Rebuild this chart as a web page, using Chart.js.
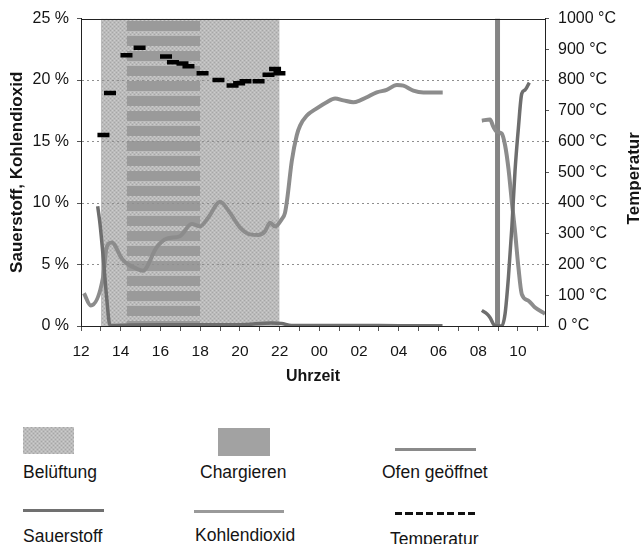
<!DOCTYPE html>
<html lang="de">
<head>
<meta charset="utf-8">
<title>Sauerstoff, Kohlendioxid und Temperatur</title>
<script src="https://cdn.jsdelivr.net/npm/chart.js@4.4.1/dist/chart.umd.min.js"></script>
<style>
  html, body { margin: 0; padding: 0; background: #fff; }
  #page { position: relative; width: 641px; height: 544px; overflow: hidden;
          font-family: "Liberation Sans", Arial, Helvetica, sans-serif; color: #141414; }
  #chartBox { position: absolute; left: 0; top: 0; width: 641px; height: 400px; }
  .swatch, .stroke, .label { position: absolute; }
  .label { font-size: 17.5px; line-height: 20px; white-space: nowrap; }
</style>
</head>
<body>
<div id="page">
  <div id="chartBox"><canvas id="mainChart"></canvas></div>

  <div class="swatch" id="swVent" style="left:23px;top:427px;width:51px;height:27px;background:#bcbcbc"></div>
  <div class="label" style="left:23px;top:462px">Belüftung</div>
  <div class="swatch" style="left:218px;top:428px;width:52px;height:28px;background:#a2a2a2"></div>
  <div class="label" style="left:200px;top:462px">Chargieren</div>
  <div class="stroke" style="left:395px;top:448px;width:81px;height:3px;background:#8a8a8a"></div>
  <div class="label" style="left:382px;top:462px">Ofen geöffnet</div>

  <div class="stroke" style="left:23px;top:509px;width:81px;height:3px;background:#707070"></div>
  <div class="label" style="left:23px;top:526px">Sauerstoff</div>
  <div class="stroke" style="left:194px;top:510px;width:90px;height:3px;background:#9a9a9a"></div>
  <div class="label" style="left:195px;top:525px">Kohlendioxid</div>
  <div class="stroke" style="left:395px;top:512px;width:81px;height:3px;background:repeating-linear-gradient(90deg,#111 0 7px,transparent 7px 10.5px)"></div>
  <div class="label" style="left:390px;top:529px">Temperatur</div>
</div>

<script>
// Werte; Zeit = Stunden ab Mitternacht des ersten Tages (24 = 00 Uhr)
const xTickHours = [12, 13, 14, 15, 16, 17, 18, 19, 20, 21, 22, 23, 24, 25, 26, 27, 28, 29, 30, 31, 32, 33, 34, 35];

const ventWindow = [13.0, 22.0];    // Belüftung
const chargeWindow = [14.3, 18.0];  // Chargieren
const ovenOpenHour = 32.97;         // Ofen geöffnet

// Kohlendioxid in %
const co2Hours = [12.15, 12.49, 13.11, 13.29, 13.55, 14.05, 14.30, 14.80, 15.12, 15.81,
  16.32, 16.98, 17.57, 17.99, 18.40, 19.00, 19.50, 20.01, 20.51, 20.91,
  21.26, 21.52, 21.77, 22.11, 22.27, 22.38, 22.61, 22.86, 23.03, 23.36,
  23.87, 24.37, 24.79, 25.21, 25.71, 26.05, 26.39, 26.89, 27.39, 27.90,
  28.23, 28.73, 29.24, 29.74, 30.21, 31.2,
  32.18, 32.59, 32.76, 32.93, 33.18, 33.35, 33.52, 33.69, 33.85, 34.02, 34.19, 34.52, 34.86, 35.36];
const co2Pct = [2.66, 1.67, 3.96, 6.4, 6.8, 5.5, 5.1, 4.66, 4.5, 6.4,
  7.1, 7.3, 8.3, 8.1, 8.8, 10.1, 9.2, 8.0, 7.45, 7.4,
  7.7, 8.4, 8.1, 8.7, 9.2, 10.3, 13.4, 15.5, 16.3, 17.1,
  17.7, 18.2, 18.5, 18.35, 18.2, 18.35, 18.6, 19.0, 19.2, 19.6,
  19.55, 19.15, 19.0, 19.0, 19.0, null,
  16.7, 16.8, 16.2, 15.8, 15.66, 14.7, 12.8, 10.1, 7.7, 4.8, 2.6, 2.07, 1.5, 1.0];

// Sauerstoff in %
const o2Hours = [12.84, 12.96, 13.12, 13.29, 13.46, 14.5, 16.0, 18.0, 20.0, 21.6,
  22.1, 22.6, 24.0, 26.0, 28.0, 30.2, 31.2,
  32.18, 32.43, 32.59, 32.85, 33.18, 33.35, 33.52, 33.69, 33.85, 34.02, 34.19, 34.36, 34.57];
const o2Pct = [9.74, 8.26, 5.57, 2.34, 0.05, 0.08, 0.1, 0.1, 0.1, 0.25,
  0.2, 0.05, 0.05, 0.05, 0.02, 0.02, null,
  1.27, 1.0, 0.7, 0, 0, 1.0, 4.0, 8.0, 12.6, 16.1, 18.9, 19.2, 19.8];

// Temperatur in °C
const tempHours = [13.13, 13.46, 14.29, 14.95, 16.28, 16.63, 17.11, 17.41, 18.12,
  18.92, 19.63, 19.96, 20.28, 20.94, 21.44, 21.77, 21.99];
const tempC = [621, 758, 881, 905, 877, 858, 854, 845, 822,
  800, 782, 790, 796, 796, 817, 836, 822];

const PCT_MAX = 25;
const FONT = '"Liberation Sans", Arial, Helvetica, sans-serif';
const INK = '#141414';

function toPoints(xs, ys) {
  return xs.map((x, i) => ({ x: x, y: ys[i] }));
}

// Raster für die Belüftungsfläche
function stipplePattern() {
  const c = document.createElement('canvas');
  c.width = 4; c.height = 4;
  const g = c.getContext('2d');
  g.fillStyle = '#bbbbbb'; g.fillRect(0, 0, 4, 4);
  g.fillStyle = '#a6a6a6'; g.fillRect(0, 0, 1, 1); g.fillRect(2, 2, 1, 1);
  g.fillStyle = '#cccccc'; g.fillRect(2, 0, 1, 1); g.fillRect(0, 2, 1, 1);
  return c;
}

// Streifen für die Chargierfläche
function stripePattern(ctx) {
  const c = document.createElement('canvas');
  c.width = 4; c.height = 15;
  const g = c.getContext('2d');
  g.fillStyle = '#9a9a9a'; g.fillRect(0, 0, 4, 10);
  const p = ctx.createPattern(c, 'repeat');
  p.setTransform(new DOMMatrix().translate(0, 6));
  return p;
}

const canvas = document.getElementById('mainChart');
const ctx = canvas.getContext('2d');
const stippleTile = stipplePattern();
document.getElementById('swVent').style.background = 'url(' + stippleTile.toDataURL() + ')';

function band(label, range, fillStyle, order) {
  return {
    type: 'line', label: label,
    data: [{ x: range[0], y: PCT_MAX }, { x: range[1], y: PCT_MAX }],
    fill: 'origin', backgroundColor: fillStyle,
    borderColor: 'rgba(0,0,0,0)', borderWidth: 0, pointRadius: 0,
    yAxisID: 'y', order: order
  };
}

const frameAndTitle = {
  id: 'frameAndTitle',
  afterDraw(chart) {
    const c = chart.ctx, a = chart.chartArea;
    c.save();
    c.strokeStyle = '#222';
    c.lineWidth = 1;
    c.beginPath();
    c.moveTo(a.left, Math.round(a.top) + 0.5);
    c.lineTo(a.right, Math.round(a.top) + 0.5);
    c.stroke();
    c.translate(634, (a.top + a.bottom) / 2 + 6);
    c.rotate(-Math.PI / 2);
    c.font = 'bold 17px ' + FONT;
    c.fillStyle = INK;
    c.textAlign = 'center';
    c.textBaseline = 'middle';
    c.fillText('Temperatur', 0, 0);
    c.restore();
  }
};

new Chart(ctx, {
  type: 'line',
  data: {
    datasets: [
      {
        label: 'Temperatur', data: toPoints(tempHours, tempC), yAxisID: 'y1',
        showLine: false, pointStyle: 'line', pointRadius: 6, pointBorderWidth: 4.5,
        pointBorderColor: '#000', pointBackgroundColor: '#000', order: 0
      },
      {
        label: 'Sauerstoff', data: toPoints(o2Hours, o2Pct), yAxisID: 'y',
        borderColor: '#6e6e6e', borderWidth: 3.5, pointRadius: 0,
        cubicInterpolationMode: 'monotone', fill: false, order: 1
      },
      {
        label: 'Kohlendioxid', data: toPoints(co2Hours, co2Pct), yAxisID: 'y',
        borderColor: '#8c8c8c', borderWidth: 4, pointRadius: 0,
        cubicInterpolationMode: 'monotone', fill: false, order: 2
      },
      {
        label: 'Ofen geöffnet',
        data: [{ x: ovenOpenHour, y: 0 }, { x: ovenOpenHour, y: PCT_MAX }], yAxisID: 'y',
        borderColor: '#858585', borderWidth: 5, pointRadius: 0, fill: false, order: 3
      },
      band('Chargieren', chargeWindow, stripePattern(ctx), 4),
      band('Belüftung', ventWindow, ctx.createPattern(stippleTile, 'repeat'), 5)
    ]
  },
  options: {
    responsive: true,
    maintainAspectRatio: false,
    animation: false,
    events: [],
    layout: { padding: { top: 16, right: 0, bottom: 0, left: 0 } },
    plugins: {
      legend: { display: false },
      tooltip: { enabled: false },
      filler: { drawTime: 'beforeDraw' }   // Flächen unter das Gitter legen
    },
    scales: {
      x: {
        type: 'linear', min: 12, max: 35.36,
        afterBuildTicks: s => { s.ticks = xTickHours.map(v => ({ value: v })); },
        afterFit: s => { s.height = 74; },
        ticks: {
          autoSkip: false, maxRotation: 0, padding: 11, color: INK,
          font: { family: FONT, size: 15.5 },
          callback: v => (v % 2 === 0 ? String(v % 24).padStart(2, '0') : '')
        },
        grid: { drawOnChartArea: false, tickLength: 5, tickColor: '#555' },
        border: { color: '#222', width: 1, z: 1 },
        title: {
          display: true, text: 'Uhrzeit', color: INK,
          font: { family: FONT, size: 16, weight: 'bold' },
          padding: { top: 0, bottom: 14 }
        }
      },
      y: {
        position: 'left', min: 0, max: PCT_MAX,
        afterFit: s => { s.width = 81; },
        ticks: {
          stepSize: 5, padding: 8, color: INK,
          font: { family: FONT, size: 16 },
          callback: v => v + ' %'
        },
        grid: {
          color: c => (c.tick && (c.tick.value === 0 || c.tick.value === PCT_MAX)) ? 'rgba(0,0,0,0)' : '#8f8f8f',
          tickColor: '#555', tickLength: 4
        },
        border: { color: '#222', width: 1, dash: [2, 3], z: 1 },
        title: {
          display: true, text: 'Sauerstoff, Kohlendioxid', color: INK,
          font: { family: FONT, size: 17, weight: 'bold' },
          padding: { top: 7, bottom: 0 }
        }
      },
      y1: {
        position: 'right', min: 0, max: 1000,
        afterFit: s => { s.width = 96; },
        ticks: {
          stepSize: 100, padding: 9, color: INK,
          font: { family: FONT, size: 16 },
          callback: v => v + ' °C'
        },
        grid: { drawOnChartArea: false, tickLength: 4, tickColor: '#555' },
        border: { color: '#222', width: 1, z: 1 }
      }
    }
  },
  plugins: [frameAndTitle]
});
</script>
</body>
</html>
